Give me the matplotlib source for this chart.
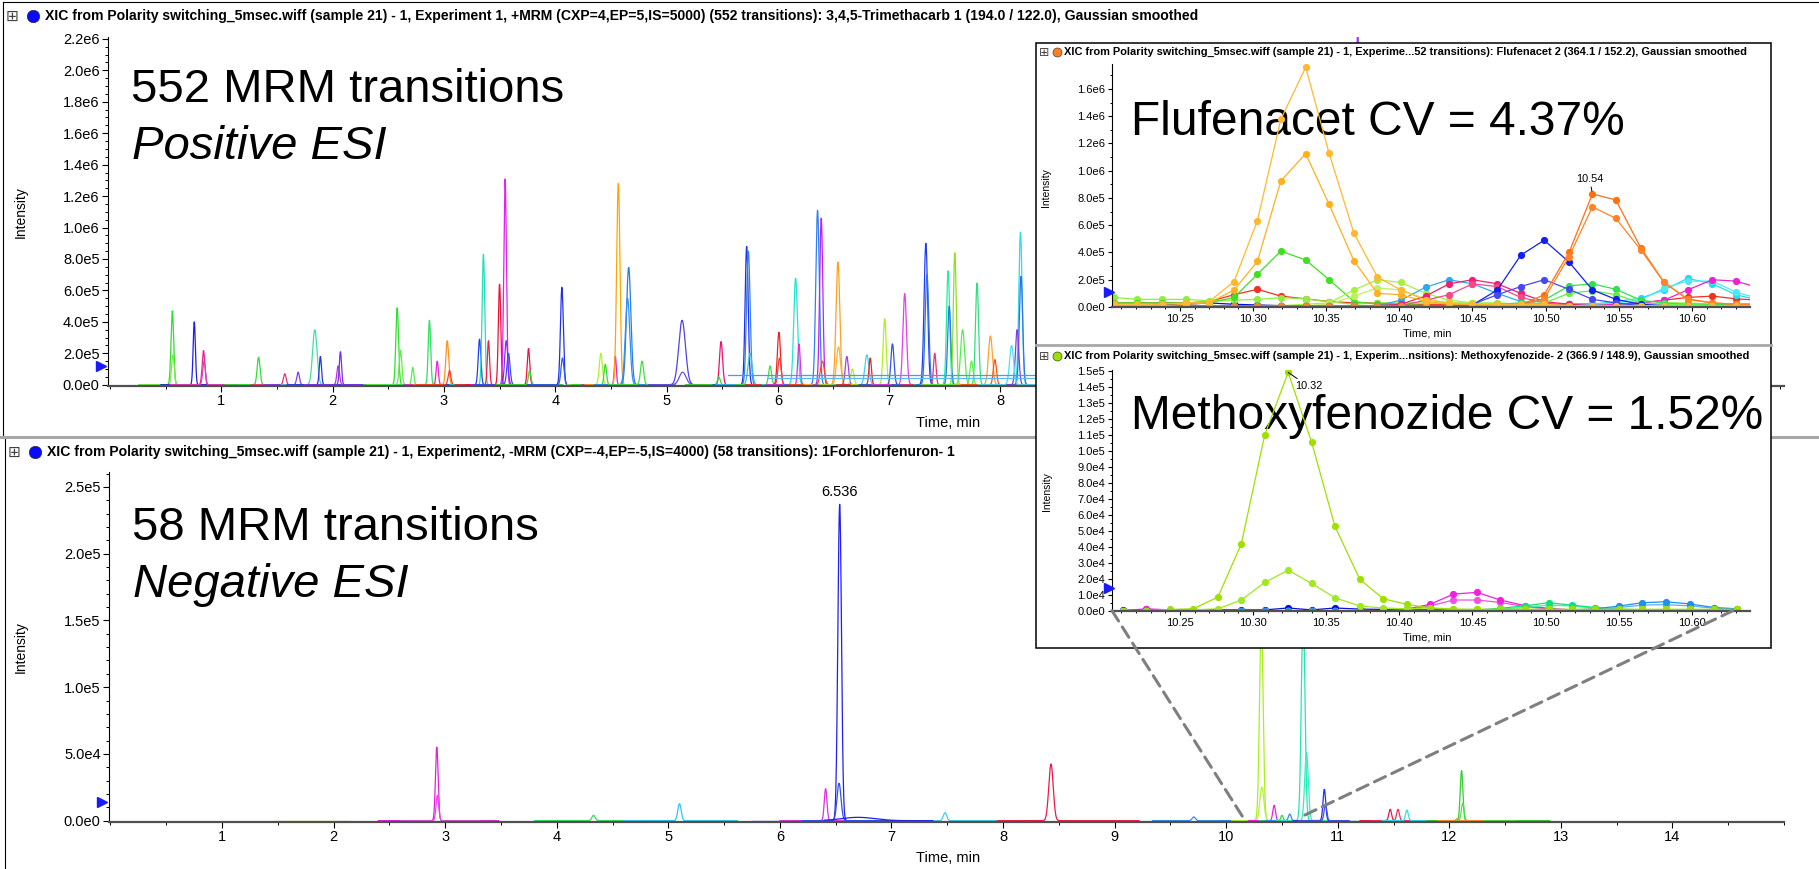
import numpy as np
import matplotlib
matplotlib.use("Agg")
import matplotlib.pyplot as plt
from matplotlib.ticker import MultipleLocator, FixedLocator, FuncFormatter
from matplotlib.patches import Rectangle, ConnectionPatch
from matplotlib.lines import Line2D

W, H = 1819, 869

# ---- top panel (+ESI, 552 transitions): peak apex time (min), intensity, sigma (min), colour
top_rt = [0.56, 0.565, 0.757, 0.84, 0.845, 1.335, 1.57, 1.69, 1.84, 1.89, 2.05, 2.07,
          2.58, 2.61, 2.72, 2.87, 2.94, 3.03, 3.05, 3.32, 3.355, 3.40, 3.50, 3.55, 3.56,
          3.58, 3.76, 3.77, 4.06, 4.065, 4.41, 4.45, 4.54, 4.567, 4.66, 4.65, 4.78, 5.14,
          5.145, 5.49, 5.47, 5.72, 5.735, 5.75, 5.93, 6.01, 6.015, 6.16, 6.19, 6.357, 6.39,
          6.40, 6.54, 6.545, 6.62, 6.67, 6.80, 6.83, 6.96, 7.03, 7.14, 7.33, 7.34, 7.41,
          7.53, 7.54, 7.59, 7.66, 7.79, 7.74, 7.91, 7.95, 8.18, 8.185, 8.15, 8.10,
          10.335, 10.499, 10.532, 11.21]
top_height = [4.7e5, 1.9e5, 4.0e5, 2.17e5, 1.5e5, 1.75e5, 7e4, 8e4, 3.5e5, 1.8e5, 1.2e5, 2.1e5,
              4.9e5, 2.2e5, 1.1e5, 4.1e5, 1.5e5, 2.8e5, 9e4, 2.9e5, 8.3e5, 2.8e5, 6.4e5, 1.31e6, 2.8e5,
              2.0e5, 2.3e5, 9e4, 6.2e5, 1.7e5, 2.0e5, 1.3e5, 1.8e5, 1.28e6, 7.46e5, 5.5e5, 1.5e5, 4.1e5,
              8e4, 2.75e5, 5e4, 8.8e5, 8.5e5, 2.0e5, 1.2e5, 3.34e5, 1.7e5, 6.77e5, 2.6e5, 1.11e6, 1.06e6,
              1.5e5, 7.8e5, 2.4e5, 1.8e5, 1.0e5, 1.9e5, 1.7e5, 4.2e5, 2.6e5, 5.8e5, 9.0e5, 7.0e5, 2.0e5,
              7.25e5, 5.0e5, 8.4e5, 3.5e5, 6.47e5, 1.5e5, 3.1e5, 1.6e5, 9.7e5, 6.9e5, 3.5e5, 2.5e5,
              1.76e6, 4.9e5, 8.3e5, 2.3e6]
top_sigma = [0.012, 0.012, 0.010, 0.012, 0.012, 0.013, 0.012, 0.012, 0.020, 0.010, 0.012, 0.010,
             0.012, 0.012, 0.010, 0.011, 0.010, 0.013, 0.012, 0.012, 0.012, 0.010, 0.011, 0.012, 0.014,
             0.014, 0.011, 0.011, 0.013, 0.013, 0.014, 0.011, 0.009, 0.015, 0.020, 0.020, 0.014, 0.030,
             0.030, 0.014, 0.012, 0.014, 0.016, 0.018, 0.013, 0.014, 0.014, 0.017, 0.011, 0.016, 0.014,
             0.018, 0.017, 0.018, 0.014, 0.014, 0.018, 0.011, 0.014, 0.014, 0.016, 0.016, 0.016, 0.011,
             0.014, 0.014, 0.013, 0.018, 0.014, 0.014, 0.018, 0.014, 0.015, 0.015, 0.015, 0.018,
             0.015, 0.015, 0.015, 0.014]
top_color = ['#33dd33', '#77ee44', '#1f1fe8', '#f0208a', '#e040c0', '#33dd33', '#f03070', '#8040f0',
             '#40e0a0', '#3030f0', '#c030e0', '#7030f0', '#30e030', '#66ee44', '#50f050', '#30e060',
             '#f020d0', '#ff9020', '#ff4020', '#2040f0', '#20e0c0', '#f02040', '#f0103c', '#e020f0',
             '#8030f0', '#3050f0', '#f01040', '#33dd33', '#2030f0', '#3060f0', '#b0f030', '#33dd33',
             '#e020e0', '#ffa500', '#2878f0', '#3090f0', '#40e040', '#5040f0', '#6050f0', '#f01070',
             '#33dd33', '#2030e8', '#3080f0', '#30c0f0', '#40e040', '#f02020', '#f04040', '#20e8d0',
             '#e030e0', '#3080f0', '#c020f0', '#ff5010', '#ffa020', '#ffb040', '#a040f0', '#b0f030',
             '#40d0f0', '#f02020', '#b0f020', '#3050f0', '#e040f0', '#2040f0', '#3070f0', '#f03070',
             '#20f0a0', '#2878f0', '#90e020', '#50f050', '#30e080', '#66ee44', '#ffa030', '#ff5010',
             '#30d8f0', '#3070f0', '#8040e0', '#50e0f0', '#ffb020', '#1020f0', '#ff7010', '#a030f0']
top_window = 0.3

# flat background levels of a few +ESI traces
top_bg_start = [5.55, 5.90]
top_bg_end = [9.2, 9.2]
top_bg_level = [6.0e4, 4.0e4]
top_bg_color = ['#3aa0f0', '#60b8f0']

# ---- bottom panel (-ESI, 58 transitions): apex, intensity, sigma, window start/end, colour
bot_rt = [2.925, 2.93, 0.0, 0.0, 4.33, 5.10, 0.0, 6.41, 6.536, 6.53, 6.70, 7.48, 8.43, 9.71,
          0.0, 10.315, 10.32, 10.43, 10.50, 10.57, 10.69, 10.72, 10.88, 10.89, 11.47, 11.54,
          11.62, 12.11, 12.12, 12.07]
bot_height = [5.5e4, 1.9e4, 0, 0, 4e3, 1.27e4, 0, 2.4e4, 2.37e5, 2.8e4, 2.5e3, 6e3, 4.25e4, 2.8e3,
              0, 1.5e5, 2.5e4, 1.15e4, 4e3, 5e3, 1.6e5, 5.1e4, 2.35e4, 1.2e4, 8.5e3, 8.5e3,
              8e3, 3.75e4, 1.3e4, 1.5e3]
bot_sigma = [0.012, 0.012, 0.01, 0.01, 0.015, 0.015, 0.01, 0.012, 0.016, 0.018, 0.15, 0.015, 0.02,
             0.015, 0.01, 0.016, 0.018, 0.012, 0.010, 0.012, 0.016, 0.016, 0.012, 0.012, 0.012,
             0.012, 0.012, 0.012, 0.012, 0.010]
bot_start = [2.40, 2.60, 1.47, 2.62, 3.80, 4.60, 5.75, 6.00, 6.34, 6.20, 6.40, 7.38, 7.95, 9.34,
             9.95, 10.05, 10.10, 10.20, 10.30, 10.35, 10.45, 10.50, 10.60, 10.65, 11.20, 11.30,
             11.40, 11.80, 11.90, 11.90]
bot_end = [3.48, 3.30, 2.14, 3.35, 4.60, 5.62, 6.34, 6.60, 7.38, 7.00, 7.30, 7.95, 9.22, 10.04,
           11.80, 10.60, 10.50, 10.70, 10.70, 10.80, 10.95, 10.95, 11.10, 11.10, 11.70, 11.80,
           11.90, 12.90, 12.60, 12.30]
bot_color = ['#e020e0', '#f040f0', '#66dd22', '#44dd33', '#30e060', '#30c8f0', '#1010c0', '#e030e0',
             '#2020f0', '#3050f0', '#2020f0', '#40d0f0', '#f01848', '#3090f0', '#1010c0', '#a8f020',
             '#b8f040', '#f020e0', '#20e060', '#3090f0', '#20e8b0', '#30f0c0', '#2030f0', '#4050f0',
             '#f01848', '#f03060', '#30e0f0', '#30d030', '#50e050', '#ff9020']

# ---- inset 1: Flufenacet region of the +ESI run (intensity in units of 1e5)
flu_time = [10.205, 10.221, 10.238, 10.254, 10.270, 10.287, 10.303, 10.319, 10.336, 10.352,
            10.369, 10.385, 10.401, 10.418, 10.434, 10.450, 10.467, 10.483, 10.499, 10.516,
            10.532, 10.548, 10.565, 10.581, 10.597, 10.614, 10.630, 10.646]
flu_navy = [0.1, 0.1, 0.15, 0.2, 0.3, 0.2, 0.15, 0.1, 0.1, 0.1, 0.1, 0.1, 0.1, 0.1,
            0.1, 0.1, 0.15, 0.2, 0.15, 0.2, 0.2, 0.15, 0.1, 0.1, 0.1, 0.1, 0.1, 0.1]
flu_red = [0.3, 0.3, 0.3, 0.3, 0.4, 0.9, 1.3, 0.8, 0.6, 0.4, 0.3, 0.3, 0.2, 0.2,
           0.2, 0.2, 0.2, 0.2, 0.2, 0.2, 0.2, 0.2, 0.3, 0.5, 0.7, 0.8, 0.6, 0.5]
flu_lime_base = [0.7, 0.56, 0.56, 0.56, 0.46, 0.5, 0.56, 0.68, 0.6, 0.37, 0.2, 0.3, 0.3, 0.3,
                 0.3, 0.3, 0.3, 0.2, 0.2, 0.2, 0.2, 0.2, 0.2, 0.3, 0.3, 0.2, 0.2, 0.2]
flu_green_a = [0.3, 0.3, 0.3, 0.3, 0.3, 0.7, 2.4, 4.1, 3.45, 2.0, 0.4, 0.2, 0.2, 0.1,
               0.1, 0.1, 0.1, 0.1, 0.1, 0.1, 0.1, 0.1, 0.1, 0.1, 0.1, 0.1, 0.1, 0.1]
flu_lime_a = [0, 0, 0, 0, 0, 0, 0.1, 0.1, 0.2, 0.3, 1.25, 2.0, 1.8, 1.0,
              0.5, 0.3, 0.2, 0.1, 0.1, 0.1, 0.1, 0.1, 0.1, 0.1, 0.1, 0.1, 0.1, 0.1]
flu_lime_b = [0, 0, 0, 0, 0, 0, 0.1, 0.1, 0.1, 0.2, 0.8, 1.4, 1.25, 0.6,
              0.3, 0.2, 0.1, 0.1, 0.1, 0.1, 0.1, 0.1, 0.1, 0.1, 0.1, 0.1, 0.1, 0.1]
flu_sky_a = [0.1, 0.1, 0.1, 0.1, 0.1, 0.1, 0.1, 0.1, 0.1, 0.1, 0.1, 0.1, 0.5, 1.45,
             2.0, 1.7, 1.0, 0.4, 0.2, 0.1, 0.1, 0.1, 0.1, 0.1, 0.1, 0.1, 0.1, 0.1]
flu_cyan_a = [0.1, 0.1, 0.1, 0.1, 0.1, 0.1, 0.1, 0.1, 0.1, 0.1, 0.1, 0.1, 0.1, 0.1,
              0.1, 0.1, 0.1, 0.1, 0.1, 0.1, 0.2, 0.4, 0.65, 1.25, 2.1, 1.7, 0.9, 0.5]
flu_cyan_b = [0.1, 0.1, 0.1, 0.1, 0.1, 0.1, 0.1, 0.1, 0.1, 0.1, 0.1, 0.1, 0.1, 0.1,
              0.1, 0.1, 0.1, 0.1, 0.1, 0.1, 0.2, 0.3, 0.5, 1.4, 1.9, 1.9, 1.1, 0.6]
flu_pink_a = [0.1, 0.1, 0.1, 0.1, 0.1, 0.1, 0.1, 0.1, 0.1, 0.1, 0.1, 0.1, 0.2, 0.8,
              1.7, 2.0, 1.7, 1.0, 0.4, 0.2, 0.1, 0.1, 0.1, 0.1, 0.1, 0.1, 0.1, 0.1]
flu_pink_b = [0.1, 0.1, 0.1, 0.1, 0.1, 0.1, 0.1, 0.1, 0.1, 0.1, 0.1, 0.1, 0.1, 0.5,
              0.9, 1.7, 1.5, 0.7, 0.3, 0.1, 0.1, 0.1, 0.1, 0.1, 0.1, 0.1, 0.1, 0.1]
flu_magenta = [0.1, 0.1, 0.1, 0.1, 0.1, 0.1, 0.1, 0.1, 0.1, 0.1, 0.1, 0.1, 0.1, 0.1,
               0.1, 0.1, 0.1, 0.1, 0.1, 0.1, 0.1, 0.2, 0.3, 0.5, 1.25, 2.0, 1.9, 1.4]
flu_green_b = [0.1, 0.1, 0.1, 0.1, 0.1, 0.1, 0.1, 0.1, 0.1, 0.1, 0.1, 0.1, 0.1, 0.1,
               0.1, 0.1, 0.2, 0.3, 0.5, 1.55, 1.7, 1.3, 0.5, 0.3, 0.2, 0.2, 0.2, 0.2]
flu_green_c = [0.1, 0.1, 0.1, 0.1, 0.1, 0.1, 0.1, 0.1, 0.1, 0.1, 0.1, 0.1, 0.1, 0.1,
               0.1, 0.1, 0.1, 0.2, 0.3, 1.0, 1.2, 0.9, 0.3, 0.2, 0.2, 0.1, 0.1, 0.1]
flu_blue_a = [0.05, 0.05, 0.05, 0.05, 0.05, 0.05, 0.05, 0.05, 0.05, 0.05, 0.05, 0.05, 0.05, 0.1,
              0.1, 0.15, 1.25, 3.8, 4.9, 3.3, 1.25, 0.56, 0.2, 0.1, 0.05, 0.05, 0.05, 0.05]
flu_blue_b = [0.05, 0.05, 0.05, 0.05, 0.05, 0.05, 0.05, 0.05, 0.05, 0.05, 0.05, 0.05, 0.05, 0.1,
              0.1, 0.2, 0.9, 1.5, 2.0, 1.3, 0.56, 0.3, 0.1, 0.05, 0.05, 0.05, 0.05, 0.05]
flu_orange_c = [0.05, 0.05, 0.05, 0.05, 0.05, 0.05, 0.05, 0.05, 0.05, 0.05, 0.05, 0.05, 0.05, 0.05,
                0.05, 0.05, 0.1, 0.15, 0.9, 4.0, 8.3, 7.85, 4.35, 1.8, 0.56, 0.3, 0.2, 0.2]
flu_orange_d = [0.05, 0.05, 0.05, 0.05, 0.05, 0.05, 0.05, 0.05, 0.05, 0.05, 0.05, 0.05, 0.05, 0.05,
                0.05, 0.05, 0.05, 0.1, 0.6, 3.7, 7.35, 6.5, 4.2, 1.8, 0.6, 0.3, 0.2, 0.2]
flu_orange_b = [0.1, 0.1, 0.1, 0.2, 0.3, 1.25, 3.34, 9.25, 11.25, 7.53, 3.38, 1.0, 0.9, 0.4,
                0.2, 0.2, 0.1, 0.1, 0.1, 0.1, 0.1, 0.1, 0.1, 0.1, 0.1, 0.1, 0.1, 0.1]
flu_orange_a = [0.2, 0.2, 0.2, 0.3, 0.4, 1.86, 6.34, 13.77, 17.59, 11.28, 5.4, 2.2, 1.25, 0.5,
                0.3, 0.2, 0.2, 0.2, 0.2, 0.1, 0.1, 0.1, 0.1, 0.1, 0.1, 0.1, 0.1, 0.1]

# ---- inset 2: Methoxyfenozide region of the -ESI run (intensity in units of 1e4)
met_time = [10.211, 10.227, 10.243, 10.259, 10.276, 10.292, 10.308, 10.324, 10.340, 10.356,
            10.373, 10.389, 10.405, 10.421, 10.437, 10.453, 10.469, 10.486, 10.502, 10.518,
            10.534, 10.550, 10.566, 10.582, 10.599, 10.615, 10.631]
met_navy = [0.02, 0.02, 0.03, 0.05, 0.05, 0.05, 0.05, 0.17, 0.05, 0.17, 0.1, 0.08, 0.05, 0.05,
            0.05, 0.05, 0.05, 0.05, 0.05, 0.05, 0.05, 0.05, 0.05, 0.05, 0.05, 0.05, 0.05]
met_magenta_a = [0, 0.12, 0.05, 0, 0, 0, 0, 0, 0, 0, 0, 0, 0.1, 0.4,
                 1.04, 1.15, 0.67, 0.31, 0.15, 0.05, 0, 0, 0, 0, 0, 0, 0]
met_magenta_b = [0, 0.08, 0.03, 0, 0, 0, 0, 0, 0, 0, 0, 0, 0.05, 0.3,
                 0.67, 0.67, 0.52, 0.25, 0.1, 0, 0, 0, 0, 0, 0, 0, 0]
met_teal_a = [0, 0, 0, 0, 0, 0, 0, 0, 0, 0, 0, 0, 0, 0,
              0, 0.05, 0.15, 0.31, 0.5, 0.35, 0.2, 0.1, 0.05, 0, 0, 0, 0]
met_teal_b = [0, 0, 0, 0, 0, 0, 0, 0, 0, 0, 0, 0, 0, 0,
              0, 0, 0.1, 0.2, 0.35, 0.3, 0.15, 0.05, 0, 0, 0, 0, 0]
met_sky_a = [0, 0, 0, 0, 0, 0, 0, 0, 0, 0, 0, 0, 0, 0,
             0, 0, 0, 0, 0, 0.05, 0.12, 0.29, 0.5, 0.56, 0.42, 0.2, 0.12]
met_sky_b = [0, 0, 0, 0, 0, 0, 0, 0, 0, 0, 0, 0, 0, 0,
             0, 0, 0, 0, 0, 0, 0.08, 0.2, 0.35, 0.38, 0.3, 0.15, 0.08]
met_lime_b = [0, 0, 0, 0.05, 0.12, 0.67, 1.77, 2.54, 1.71, 0.81, 0.29, 0.17, 0.12, 0.17,
              0.08, 0.08, 0.08, 0.08, 0.08, 0.08, 0.08, 0.08, 0.08, 0.08, 0.08, 0.08, 0.08]
met_lime_a = [0, 0, 0.08, 0.12, 0.85, 4.19, 11.02, 14.94, 10.58, 5.29, 1.96, 0.75, 0.4, 0.17,
              0.1, 0.08, 0.08, 0.08, 0.08, 0.08, 0.08, 0.08, 0.08, 0.08, 0.08, 0.08, 0.08]

TOP_TITLE = ("XIC from Polarity switching_5msec.wiff (sample 21) - 1, Experiment 1, +MRM "
             "(CXP=4,EP=5,IS=5000) (552 transitions): 3,4,5-Trimethacarb 1 (194.0 / 122.0), Gaussian smoothed")
BOT_TITLE = ("XIC from Polarity switching_5msec.wiff (sample 21) - 1, Experiment2, -MRM "
             "(CXP=-4,EP=-5,IS=4000) (58 transitions): 1Forchlorfenuron- 1")
FLU_TITLE = ("XIC from Polarity switching_5msec.wiff (sample 21) - 1, Experime...52 transitions): "
             "Flufenacet 2 (364.1 / 152.2), Gaussian smoothed")
MET_TITLE = ("XIC from Polarity switching_5msec.wiff (sample 21) - 1, Experim...nsitions): "
             "Methoxyfenozide- 2 (366.9 / 148.9), Gaussian smoothed")


def fx(x):
    return x / W


def fy(y):
    return 1 - y / H


def box(x0, y0, x1, y1):
    # pixel box (top-left, bottom-right) -> figure rect
    return [fx(x0), fy(y1), (x1 - x0) / W, (y1 - y0) / H]


def sci(v, pos):
    if abs(v) < 1e-9:
        return "0.0e0"
    e = int(np.floor(np.log10(abs(v)) + 1e-9))
    return f"{v / 10 ** e:.1f}e{e}"


def style_axes(ax, fs, major_len):
    for s in ("top", "right"):
        ax.spines[s].set_visible(False)
    ax.spines["left"].set_linewidth(0.8)
    ax.spines["bottom"].set_color("#505050")
    ax.spines["bottom"].set_linewidth(1.6)
    ax.tick_params(axis="both", which="major", direction="out", length=major_len, width=0.8,
                   labelsize=fs, pad=2, colors="black")
    ax.tick_params(axis="both", which="minor", direction="out", length=major_len * 0.6, width=0.7)
    ax.yaxis.set_major_formatter(FuncFormatter(sci))
    ax.patch.set_alpha(0)


def title_bar(x, y, text, dot, fs, dot_size, big=True):
    fig = plt.gcf()
    fig.text(fx(x), fy(y), "\u229e", fontsize=fs + 1, family="DejaVu Sans", color="#404040",
             ha="center", va="center", zorder=6)
    fig.add_artist(Line2D([fx(x + (21 if big else 13))], [fy(y)], marker="o", markersize=dot_size,
                          color=dot, markeredgecolor="#202020", markeredgewidth=0.4,
                          transform=fig.transFigure, zorder=6))
    fig.text(fx(x + (33 if big else 20)), fy(y), text, fontsize=fs, fontweight="bold",
             ha="left", va="center", zorder=6)


def y_arrow(ax, value):
    ax.plot([-0.004], [value], marker=">", markersize=7, color="#1a1aff",
            transform=ax.get_yaxis_transform(), clip_on=False, zorder=6)


def main():
    plt.rcParams["font.family"] = ["Liberation Sans", "DejaVu Sans"]
    fig = plt.figure(figsize=(W / 100, H / 100), dpi=100)

    # panel frames
    fig.add_artist(Line2D([fx(3), fx(W)], [fy(2), fy(2)], color="black", lw=0.8, transform=fig.transFigure))
    fig.add_artist(Line2D([fx(3), fx(3)], [fy(2), fy(436)], color="black", lw=0.8, transform=fig.transFigure))
    fig.add_artist(Line2D([fx(5), fx(5)], [fy(438), fy(H)], color="black", lw=0.8, transform=fig.transFigure))
    fig.add_artist(Line2D([0, 1], [fy(437), fy(437)], color="#a8a8a8", lw=2.2, transform=fig.transFigure))

    # ---------------- top panel
    ax_top = fig.add_axes(box(108, 37, 1784, 386))
    for rt, h, s, c in zip(top_rt, top_height, top_sigma, top_color):
        t = np.linspace(rt - top_window, rt + top_window, 500)
        ax_top.plot(t, h * np.exp(-0.5 * ((t - rt) / s) ** 2), color=c, lw=0.9)
    for t0, t1, lev, c in zip(top_bg_start, top_bg_end, top_bg_level, top_bg_color):
        ax_top.plot([t0, t1], [lev, lev], color=c, lw=0.9)
    ax_top.set_xlim(-0.018, 15.04)
    ax_top.set_ylim(-8e3, 2.212e6)
    style_axes(ax_top, 10.5, 4)
    # labels 9..14 sit behind the inset box, so only the visible ones are set
    ax_top.xaxis.set_major_locator(FixedLocator(range(1, 9)))
    ax_top.xaxis.set_minor_locator(MultipleLocator(0.5))
    ax_top.yaxis.set_major_locator(MultipleLocator(2e5))
    ax_top.yaxis.set_minor_locator(MultipleLocator(5e4))
    ax_top.text(0.0135, 0.815, "552 MRM transitions", transform=ax_top.transAxes, fontsize=34,
                va="baseline", zorder=1)
    ax_top.text(0.0145, 0.65, "Positive ESI", transform=ax_top.transAxes, fontsize=34,
                style="italic", va="baseline", zorder=1)
    y_arrow(ax_top, 1.2e5)

    # ---------------- bottom panel
    ax_bot = fig.add_axes(box(109, 472, 1784, 822))
    for rt, h, s, t0, t1, c in zip(bot_rt, bot_height, bot_sigma, bot_start, bot_end, bot_color):
        t = np.linspace(t0, t1, 600)
        ax_bot.plot(t, h * np.exp(-0.5 * ((t - rt) / s) ** 2), color=c, lw=0.9)
    ax_bot.set_xlim(-0.013, 15.0)
    ax_bot.set_ylim(-1e3, 2.612e5)
    style_axes(ax_bot, 10.5, 4)
    ax_bot.xaxis.set_major_locator(FixedLocator(range(1, 15)))
    ax_bot.xaxis.set_minor_locator(MultipleLocator(0.5))
    ax_bot.yaxis.set_major_locator(MultipleLocator(5e4))
    ax_bot.yaxis.set_minor_locator(MultipleLocator(1e4))
    ax_bot.text(0.0135, 0.805, "58 MRM transitions", transform=ax_bot.transAxes, fontsize=34,
                va="baseline", zorder=1)
    ax_bot.text(0.0145, 0.643, "Negative ESI", transform=ax_bot.transAxes, fontsize=34,
                style="italic", va="baseline", zorder=1)
    ax_bot.annotate("6.536", xy=(6.536, 2.37e5), xytext=(0, 4), textcoords="offset points",
                    ha="center", va="bottom", fontsize=10.5)
    y_arrow(ax_bot, 1.4e4)

    for y in (423, 858):
        fig.text(fx(948), fy(y), "Time, min", fontsize=10.5, ha="center", va="center")
    for y in (212, 647):
        fig.text(fx(21), fy(y), "Intensity", fontsize=10, rotation=90, ha="center", va="center")
    title_bar(12, 16, TOP_TITLE, "#0a0aff", 10.1, 9)
    title_bar(14, 452, BOT_TITLE, "#0a0aff", 10.1, 9)

    # ---------------- inset frame
    fig.add_artist(Rectangle((fx(1036), fy(648)), (1771 - 1036) / W, (648 - 43) / H,
                             transform=fig.transFigure, facecolor="white", edgecolor="black",
                             lw=1.1, zorder=2))
    fig.add_artist(Line2D([fx(1036), fx(1771)], [fy(345), fy(345)], color="#a8a8a8", lw=2.0,
                          transform=fig.transFigure, zorder=2.5))

    # ---------------- inset 1 : Flufenacet
    ax_f = fig.add_axes(box(1112, 64.4, 1749.7, 307))
    ax_f.set_zorder(4)
    flu_series = [(flu_navy, "#0a10c8"), (flu_red, "#f03020"), (flu_lime_base, "#90ee40"),
                  (flu_green_a, "#40e020"), (flu_lime_a, "#a8f040"), (flu_lime_b, "#bff060"),
                  (flu_sky_a, "#30a8f0"), (flu_cyan_a, "#20dcf0"), (flu_cyan_b, "#50e8f8"),
                  (flu_pink_a, "#f02070"), (flu_pink_b, "#f04a8a"), (flu_magenta, "#f020d0"),
                  (flu_green_b, "#30e050"), (flu_green_c, "#60f040"), (flu_blue_a, "#1020f0"),
                  (flu_blue_b, "#4848f0"), (flu_orange_c, "#ff7010"), (flu_orange_d, "#ff8428"),
                  (flu_orange_b, "#ffb020"), (flu_orange_a, "#ffb830")]
    for vals, c in flu_series:
        ax_f.plot(flu_time, np.array(vals) * 1e5, color=c, lw=0.9, marker="o", markersize=5.2,
                  markeredgewidth=0)
    ax_f.set_xlim(10.2036, 10.6395)
    ax_f.set_ylim(0, 1.78e6)
    style_axes(ax_f, 8, 3)
    ax_f.xaxis.set_major_locator(MultipleLocator(0.05))
    ax_f.xaxis.set_minor_locator(MultipleLocator(0.01))
    ax_f.xaxis.set_major_formatter(FuncFormatter(lambda v, p: f"{v:.2f}"))
    ax_f.yaxis.set_major_locator(MultipleLocator(2e5))
    ax_f.yaxis.set_minor_locator(MultipleLocator(1e5))
    ax_f.text(0.03, 0.709, "Flufenacet CV = 4.37%", transform=ax_f.transAxes, fontsize=34.5,
              va="baseline", zorder=1, color="black")
    ax_f.annotate("10.54", xy=(10.532, 8.3e5), xytext=(-2, 7), textcoords="offset points",
                  ha="center", va="bottom", fontsize=7.8,
                  arrowprops=dict(arrowstyle="-", lw=0.7, color="black", shrinkA=0, shrinkB=2))
    y_arrow(ax_f, 1.1e5)
    fig.text(fx(1427), fy(334), "Time, min", fontsize=8, ha="center", va="center", zorder=5)
    fig.text(fx(1046), fy(188), "Intensity", fontsize=7.5, rotation=90, ha="center", va="center", zorder=5)
    title_bar(1044, 52, FLU_TITLE, "#ff7f27", 7.9, 6.5, big=False)

    # ---------------- inset 2 : Methoxyfenozide
    ax_m = fig.add_axes(box(1112, 369.9, 1749.7, 610.7))
    ax_m.set_zorder(4)
    met_series = [(met_navy, "#0a10d8"), (met_magenta_b, "#f050e8"), (met_magenta_a, "#f020e0"),
                  (met_teal_b, "#40f0a0"), (met_teal_a, "#10e080"), (met_sky_b, "#60b0f0"),
                  (met_sky_a, "#2090f0"), (met_lime_b, "#a0e820"), (met_lime_a, "#9ee000")]
    for vals, c in met_series:
        ax_m.plot(met_time, np.array(vals) * 1e4, color=c, lw=0.9, marker="o", markersize=5.2,
                  markeredgewidth=0)
    ax_m.set_xlim(10.2036, 10.6395)
    ax_m.set_ylim(0, 1.51e5)
    style_axes(ax_m, 8, 3)
    ax_m.xaxis.set_major_locator(MultipleLocator(0.05))
    ax_m.xaxis.set_minor_locator(MultipleLocator(0.01))
    ax_m.xaxis.set_major_formatter(FuncFormatter(lambda v, p: f"{v:.2f}"))
    ax_m.yaxis.set_major_locator(MultipleLocator(1e4))
    ax_m.yaxis.set_minor_locator(MultipleLocator(5e3))
    ax_m.text(0.03, 0.755, "Methoxyfenozide CV = 1.52%", transform=ax_m.transAxes, fontsize=34.5,
              va="baseline", zorder=1, color="black")
    ax_m.annotate("10.32", xy=(10.324, 14.94e4), xytext=(5, -10), textcoords="offset points",
                  ha="left", va="center", fontsize=7.8,
                  arrowprops=dict(arrowstyle="-", lw=0.7, color="black", shrinkA=0, shrinkB=0))
    y_arrow(ax_m, 1.4e4)
    fig.text(fx(1427), fy(638), "Time, min", fontsize=8, ha="center", va="center", zorder=5)
    fig.text(fx(1047), fy(492), "Intensity", fontsize=7.5, rotation=90, ha="center", va="center", zorder=5)
    title_bar(1044, 356, MET_TITLE, "#9ee000", 7.9, 6.5, big=False)

    # zoom connectors
    for xa, xb, yb in ((10.2036, 10.17, 0), (10.628, 10.65, 2e3)):
        con = ConnectionPatch(xyA=(xa, 0), coordsA=ax_m.transData, xyB=(xb, yb), coordsB=ax_bot.transData,
                              color="#7f7f7f", lw=2.2, linestyle=(0, (4, 2.3)), zorder=10)
        fig.add_artist(con)

    plt.savefig("out.png", dpi=100)


if __name__ == '__main__':
    main()
